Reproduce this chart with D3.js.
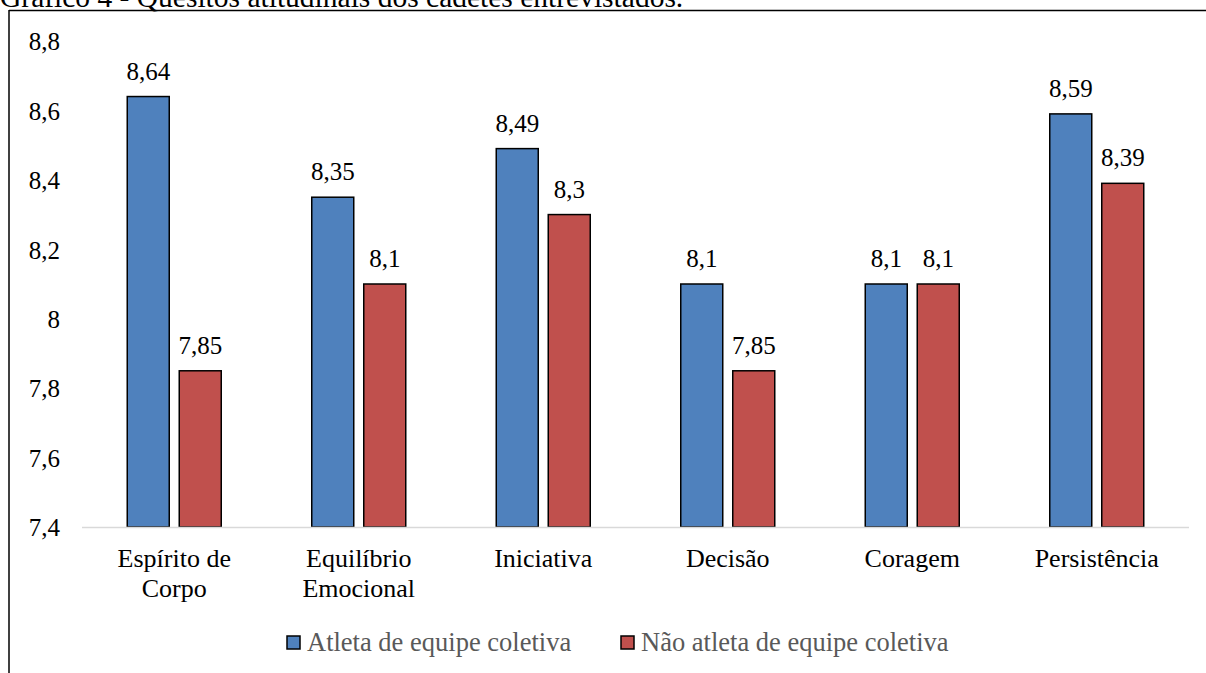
<!DOCTYPE html>
<html>
<head>
<meta charset="utf-8">
<script src="https://cdn.jsdelivr.net/npm/d3@7"></script>
<style>
  html, body { margin: 0; padding: 0; background: #fff; }
  svg { display: block; }
  svg text { font-family: "Liberation Serif", "Times New Roman", serif; }
</style>
</head>
<body>
<svg id="chart" width="1206" height="673"></svg>
<script>
// Attitudinal scores by group
const categories = [["Espírito de", "Corpo"], ["Equilíbrio", "Emocional"], ["Iniciativa"], ["Decisão"], ["Coragem"], ["Persistência"]];
const seriesNames = ["Atleta de equipe coletiva", "Não atleta de equipe coletiva"];
const atleta = [8.64, 8.35, 8.49, 8.1, 8.1, 8.59];
const naoAtleta = [7.85, 8.1, 8.3, 7.85, 8.1, 8.39];
const yTicks = [7.4, 7.6, 7.8, 8, 8.2, 8.4, 8.6, 8.8];
const colors = ["#4F81BD", "#C0504D"];

const series = [atleta, naoAtleta];
const fmt = v => String(v).replace(".", ",");
const FONT = '"Liberation Serif", "Times New Roman", serif';

const svg = d3.select("#chart");

// Caption above the frame
svg.append("text")
  .attr("x", 0).attr("y", 7)
  .attr("font-family", FONT)
  .attr("font-size", 29.5)
  .attr("fill", "#000")
  .text("Gráfico 4 - Quesitos atitudinais dos cadetes entrevistados.");

// Frame
svg.append("line").attr("x1", 9).attr("x2", 1206).attr("y1", 10.5).attr("y2", 10.5)
  .attr("stroke", "#000").attr("stroke-width", 1.5);
svg.append("line").attr("x1", 9).attr("x2", 9).attr("y1", 10).attr("y2", 673)
  .attr("stroke", "#000").attr("stroke-width", 1.5);

const plotLeft = 82, plotRight = 1189, plotTop = 41, plotBottom = 527;

const x0 = d3.scaleBand().domain(d3.range(categories.length)).range([plotLeft, plotRight]).paddingInner(0).paddingOuter(0);
const barW = 42, gap = 10;
const y = d3.scaleLinear().domain([7.4, 8.8]).range([plotBottom, plotTop]);

// Y axis tick labels
const yAxis = d3.axisLeft(y).tickValues(yTicks).tickSize(0).tickPadding(0).tickFormat(fmt);
const yg = svg.append("g").attr("transform", `translate(${plotLeft - 22},0)`).call(yAxis)
  .attr("font-family", FONT).attr("font-size", 25);
yg.select(".domain").remove();
yg.selectAll("text")
  .attr("fill", "#000")
  .attr("text-anchor", "end").attr("dy", "0.35em");

// Bars
categories.forEach((c, i) => {
  const cx = x0(i) + x0.bandwidth() / 2;
  series.forEach((s, j) => {
    const bx = j === 0 ? cx - gap / 2 - barW : cx + gap / 2;
    svg.append("rect")
      .attr("x", bx).attr("y", y(s[i]))
      .attr("width", barW).attr("height", y(7.4) - y(s[i]))
      .attr("fill", colors[j])
      .attr("stroke", "#000").attr("stroke-width", 1.5);
    svg.append("text")
      .attr("x", bx + barW / 2).attr("y", y(s[i]) - 17)
      .attr("text-anchor", "middle")
      .attr("font-family", FONT)
      .attr("font-size", 25).attr("fill", "#000")
      .text(fmt(s[i]));
  });
});

// Baseline
svg.append("line").attr("x1", plotLeft).attr("x2", plotRight).attr("y1", plotBottom + 0.5).attr("y2", plotBottom + 0.5)
  .attr("stroke", "#d9d9d9").attr("stroke-width", 1.5);

// Category labels
const xAxis = d3.axisBottom(x0).tickSize(0).tickFormat("");
const xg = svg.append("g").attr("transform", `translate(0,${plotBottom})`).call(xAxis);
xg.select(".domain").remove();
categories.forEach((c, i) => {
  const t = svg.append("text")
    .attr("x", x0(i) + x0.bandwidth() / 2)
    .attr("y", 567)
    .attr("text-anchor", "middle")
    .attr("font-family", FONT)
    .attr("font-size", 26).attr("fill", "#000");
  c.forEach((line, k) => {
    t.append("tspan").attr("x", x0(i) + x0.bandwidth() / 2).attr("dy", k === 0 ? 0 : 30).text(line);
  });
});

// Legend
const legendX = [287, 621];
seriesNames.forEach((n, j) => {
  svg.append("rect")
    .attr("x", legendX[j]).attr("y", 636)
    .attr("width", 13).attr("height", 13)
    .attr("fill", colors[j]).attr("stroke", "#000").attr("stroke-width", 1.5);
  svg.append("text")
    .attr("x", legendX[j] + 20).attr("y", 651)
    .attr("font-family", FONT)
    .attr("font-size", 26.5).attr("fill", "#595959")
    .text(n);
});
</script>
</body>
</html>
